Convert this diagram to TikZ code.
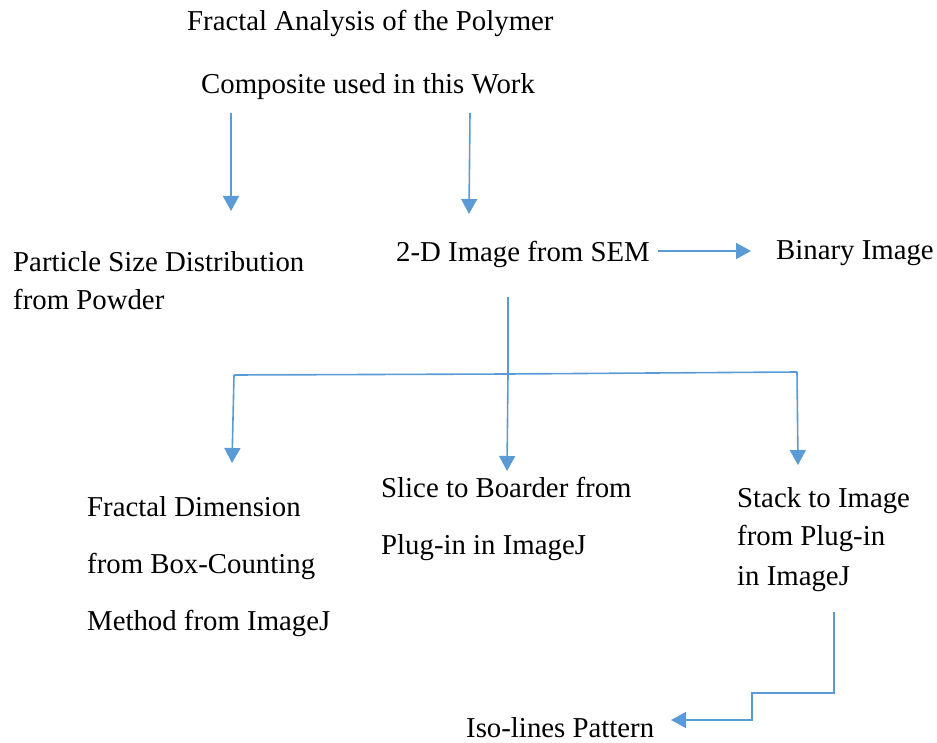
\documentclass[tikz,border=0pt]{standalone}
\usepackage{fontspec}
\setmainfont{Liberation Serif}
\usetikzlibrary{arrows.meta}
\definecolor{flowblue}{HTML}{5B9BD5}
\tikzset{
  lbl/.style={anchor=base west, inner sep=0pt, font=\fontsize{28.8}{32}\selectfont},
  flow/.style={draw=flowblue, line width=1.6pt,
    -{Triangle[width=16pt,length=15pt]}},
  plain/.style={draw=flowblue, line width=1.6pt}
}
\begin{document}
\begin{tikzpicture}[x=1pt,y=-1pt]
\useasboundingbox (0,0) rectangle (937,743);
% text labels
\node[lbl] (t1) at (187,31) {Fractal Analysis of the Polymer};
\node[lbl] (t2) at (201,94) {Composite used in this Work};
\node[lbl] (p1) at (13,272) {Particle Size Distribution};
\node[lbl] (p2) at (13,309) {from Powder};
\node[lbl] (sem) at (396,262) {2-D Image from SEM};
\node[lbl] (bin) at (776,260) {Binary Image};
\node[lbl] (f1) at (87,516) {Fractal Dimension};
\node[lbl] (f2) at (87,573) {from Box-Counting};
\node[lbl] (f3) at (87,630) {Method from ImageJ};
\node[lbl] (s1) at (381,497) {Slice to Boarder from};
\node[lbl] (s2) at (381,554) {Plug-in in ImageJ};
\node[lbl] (k1) at (737,507) {Stack to Image};
\node[lbl] (k2) at (737,545) {from Plug-in};
\node[lbl] (k3) at (737,585) {in ImageJ};
\node[lbl] (iso) at (466,737) {Iso-lines Pattern};
% connector end points
\coordinate (a1s) at (231,113);
\coordinate (a1e) at (231,211);
\coordinate (a2s) at (470,113);
\coordinate (a2e) at (469,214);
\coordinate (bs) at (658,251);
\coordinate (be) at (751,251);
\coordinate (trunk) at (508,297);
\coordinate (jL) at (234,375);
\coordinate (jM) at (508,374);
\coordinate (jR) at (797,372);
\coordinate (eL) at (232,463);
\coordinate (eM) at (507,471);
\coordinate (eR) at (798,465);
\coordinate (st) at (834,612);
\coordinate (st1) at (834,693);
\coordinate (st2) at (752,693);
\coordinate (st3) at (752,720);
\coordinate (ise) at (671,720);
% connectors
\draw[flow] (a1s) -- (a1e);
\draw[flow] (a2s) -- (a2e);
\draw[flow] (bs) -- (be);
\draw[plain] (trunk) -- (jM);
\draw[plain] (jL) -- (jM) -- (jR);
\draw[flow] (jL) -- (eL);
\draw[flow] (jM) -- (eM);
\draw[flow] (jR) -- (eR);
\draw[flow] (st) -- (st1) -- (st2) -- (st3) -- (ise);
\end{tikzpicture}
\end{document}
